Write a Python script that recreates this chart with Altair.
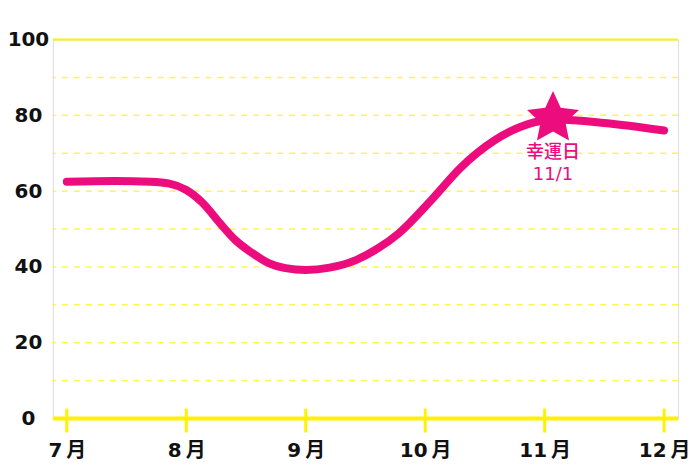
import altair as alt
import pandas as pd

# ---- data ----
months = [7, 8, 9, 10, 11, 12]
month_labels = ["7\u2009月", "8\u2009月", "9\u2009月", "10\u2009月", "11\u2009月", "12\u2009月"]
curve_x = [7.0, 7.4, 7.7, 7.86, 8.0, 8.14, 8.28, 8.41, 8.55, 8.69, 8.83, 9.0, 9.2, 9.42,
           9.6, 9.78, 10.05, 10.3, 10.58, 10.8, 10.92, 11.1, 11.5, 12.0]
curve_y = [62.5, 62.7, 62.5, 62.0, 60.3, 56.8, 51.6, 47.1, 43.7, 41.0, 39.7, 39.2, 39.8, 41.8,
           44.8, 48.9, 57.6, 66.3, 73.4, 77.0, 78.2, 78.9, 78.0, 76.0]
star_x = [11.07]
star_y = [79.2]
star_line1 = ["幸運日"]
star_line2 = ["11/1"]
grid_dashed = [10, 20, 30, 40, 50, 60, 70, 80, 90]
y_labels = [0, 20, 40, 60, 80, 100]

PINK = "#EC0C7E"
YELLOW = "#FFF200"
FONT = "DejaVu Sans, Noto Sans CJK JP"
STAR_PATH = ("M0,-1L0.282,-0.388L0.951,-0.309L0.457,0.148L0.588,0.809L0,0.48"
             "L-0.588,0.809L-0.457,0.148L-0.951,-0.309L-0.282,-0.388Z")

xdom = [7 - 14 / 120, 12 + 14 / 120]
xs = alt.Scale(domain=xdom, nice=False, zero=False)
ys = alt.Scale(domain=[0, 100], nice=False)

label_expr = "[" + ",".join(f"'{l}'" for l in month_labels) + "][datum.value - 7]"

curve_df = pd.DataFrame({"m": curve_x, "v": curve_y})
grid_df = pd.DataFrame({"v": grid_dashed})
tick_df = pd.DataFrame({"m": months, "lo": [-3.7] * len(months), "hi": [2.6] * len(months)})
star_df = pd.DataFrame({"m": star_x, "v": star_y, "t1": star_line1, "t2": star_line2})

x_axis = alt.Axis(orient="bottom", values=months, labelExpr=label_expr, domain=False,
                  ticks=False, grid=False, labelFontSize=20, labelFont=FONT,
                  labelFontWeight="bold", labelColor="#111111", labelPadding=22,
                  labelFlush=False, title=None)
y_axis = alt.Axis(orient="left", values=y_labels, domain=False, ticks=False, grid=False,
                  labelFontSize=20, labelFont=FONT, labelFontWeight="bold",
                  labelColor="#111111", labelAlign="center", labelPadding=25, title=None)


def X(field="m"):
    return alt.X(f"{field}:Q", scale=xs, axis=x_axis)


def Y(field="v"):
    return alt.Y(f"{field}:Q", scale=ys, axis=y_axis)


grid = alt.Chart(grid_df).mark_rule(color=YELLOW, strokeWidth=1.5, strokeDash=[6, 6], opacity=0.7).encode(
    y=Y()
)
top_line = alt.Chart(pd.DataFrame({"v": [100]})).mark_rule(color=YELLOW, strokeWidth=2).encode(y=Y())
zero_line = alt.Chart(pd.DataFrame({"v": [0]})).mark_rule(color=YELLOW, strokeWidth=4).encode(y=Y())
ticks = alt.Chart(tick_df).mark_rule(color=YELLOW, strokeWidth=3).encode(
    x=X(), y=Y("lo"), y2="hi:Q"
)
line = alt.Chart(curve_df).mark_line(color=PINK, strokeWidth=8, strokeCap="round",
                                     strokeJoin="round", interpolate="monotone").encode(x=X(), y=Y())
star = alt.Chart(star_df).mark_point(shape=STAR_PATH, filled=True, size=3000, color=PINK,
                                     opacity=1, strokeWidth=0).encode(x=X(), y=Y())
label1 = alt.Chart(star_df).mark_text(color=PINK, fontSize=18, font=FONT, fontWeight=500,
                                      dy=35, baseline="middle", align="center").encode(
    x=X(), y=Y(), text="t1:N"
)
label2 = alt.Chart(star_df).mark_text(color=PINK, fontSize=18, font=FONT, fontWeight="normal",
                                      dy=57, baseline="middle", align="center").encode(
    x=X(), y=Y(), text="t2:N"
)

chart = alt.layer(grid, top_line, zero_line, ticks, line, star, label1, label2).properties(
    width=627, height=380,
    autosize=alt.AutoSizeParams(type="none"),
    padding={"left": 45, "top": 31, "right": 14, "bottom": 46},
).configure_view(stroke=None).configure(background="white")

chart.save("out.html", embed_options={"renderer": "svg", "actions": False})
